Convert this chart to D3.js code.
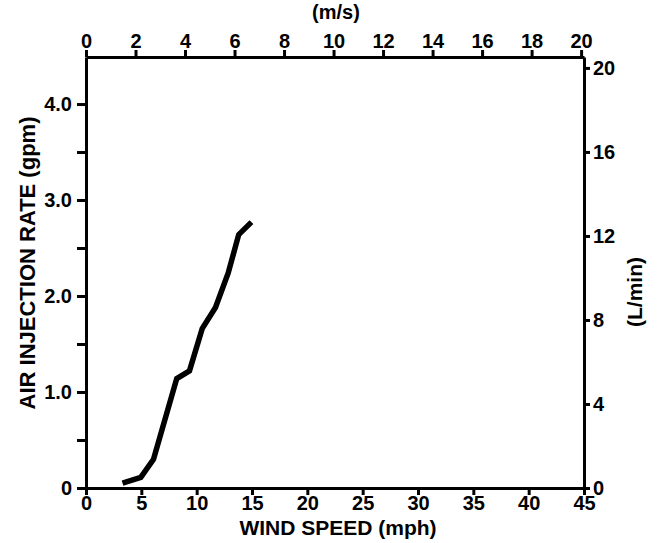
<!DOCTYPE html>
<html>
<head>
<meta charset="utf-8">
<script src="https://d3js.org/d3.v7.min.js"></script>
<style>
  body { margin: 0; background: #fff; }
  text { font-family: "Liberation Sans", Arial, sans-serif; font-weight: bold; fill: #000; }
</style>
</head>
<body>
<script>
// wind speed (mph) vs air injection rate (gpm)
var windMph = [3.3, 4.95, 6.1, 8.2, 9.35, 10.5, 11.7, 12.85, 13.8, 14.95];
var airGpm  = [0.05, 0.11, 0.30, 1.14, 1.22, 1.66, 1.88, 2.24, 2.64, 2.77];

var mphTicks = [0, 5, 10, 15, 20, 25, 30, 35, 40, 45];
var msTicks = [0, 2, 4, 6, 8, 10, 12, 14, 16, 18, 20];
var gpmTicks = [0, 0.5, 1, 1.5, 2, 2.5, 3, 3.5, 4];
var lminTicks = [0, 4, 8, 12, 16, 20];

var width = 659, height = 543;
var mLeft = 86, mRight = 584, mTop = 57, mBottom = 488;

var svg = d3.select('body').append('svg')
  .attr('width', width)
  .attr('height', height);

var x = d3.scaleLinear().domain([0, 45]).range([mLeft, mRight]);
var xTop = d3.scaleLinear().domain([0, 45 / 2.2369]).range([mLeft, mRight]);
var y = d3.scaleLinear().domain([0, 4.49]).range([mBottom, mTop]);
var yRight = d3.scaleLinear().domain([0, 20.52]).range([mBottom, mTop]);

function styleAxis(g) {
  g.select('.domain').attr('stroke', '#000').attr('stroke-width', 3);
  g.selectAll('.tick line').attr('stroke', '#000').attr('stroke-width', 3);
  g.selectAll('.tick text').style('font-size', '20px');
}

svg.append('g')
  .attr('transform', 'translate(0,' + mBottom + ')')
  .call(d3.axisBottom(x).tickValues(mphTicks).tickSize(7).tickSizeOuter(0).tickPadding(1).tickFormat(d3.format('d')))
  .call(styleAxis);

svg.append('g')
  .attr('transform', 'translate(0,' + mTop + ')')
  .call(d3.axisTop(xTop).tickValues(msTicks).tickSize(7).tickSizeOuter(0).tickPadding(2).tickFormat(d3.format('d')))
  .call(styleAxis);

svg.append('g')
  .attr('transform', 'translate(' + mLeft + ',0)')
  .call(d3.axisLeft(y).tickValues(gpmTicks).tickSize(9).tickSizeOuter(0).tickPadding(5)
    .tickFormat(function(d) { return d === 0 ? '0' : (d % 1 === 0 ? d.toFixed(1) : ''); }))
  .call(styleAxis);

svg.append('g')
  .attr('transform', 'translate(' + mRight + ',0)')
  .call(d3.axisRight(yRight).tickValues(lminTicks).tickSize(6).tickSizeOuter(0).tickPadding(3).tickFormat(d3.format('d')))
  .call(styleAxis);

var line = d3.line()
  .x(function(d, i) { return x(windMph[i]); })
  .y(function(d) { return y(d); });

svg.append('path')
  .datum(airGpm)
  .attr('d', line)
  .attr('fill', 'none')
  .attr('stroke', '#000')
  .attr('stroke-width', 5.5)
  .attr('stroke-linejoin', 'miter');

svg.append('text')
  .attr('x', 338)
  .attr('y', 535)
  .attr('text-anchor', 'middle')
  .style('font-size', '21px')
  .text('WIND SPEED (mph)');

svg.append('text')
  .attr('x', 336)
  .attr('y', 19)
  .attr('text-anchor', 'middle')
  .style('font-size', '20px')
  .text('(m/s)');

svg.append('text')
  .attr('transform', 'translate(35,263) rotate(-90)')
  .attr('text-anchor', 'middle')
  .style('font-size', '22px')
  .text('AIR INJECTION RATE (gpm)');

svg.append('text')
  .attr('transform', 'translate(642,292) rotate(-90)')
  .attr('text-anchor', 'middle')
  .style('font-size', '21px')
  .text('(L/min)');
</script>
</body>
</html>
